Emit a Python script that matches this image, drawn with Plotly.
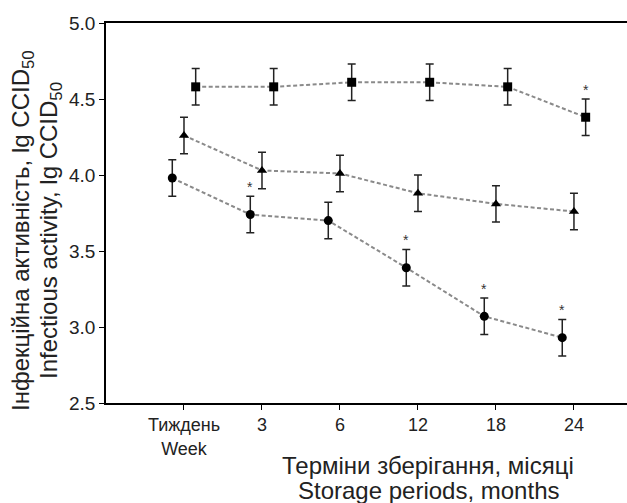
import plotly.graph_objects as go

# ---- data ----
categories = ["Тиждень<br>Week", "3", "6", "12", "18", "24"]
cat_pos = [1, 2, 3, 4, 5, 6]

circle_vals = [3.98, 3.74, 3.70, 3.39, 3.07, 2.93]
circle_err = [0.12, 0.12, 0.12, 0.12, 0.12, 0.12]
circle_sig = [False, True, False, True, True, True]

triangle_vals = [4.26, 4.03, 4.01, 3.88, 3.81, 3.76]
triangle_err = [0.12, 0.12, 0.12, 0.12, 0.12, 0.12]
triangle_sig = [False, False, False, False, False, False]

square_vals = [4.58, 4.58, 4.61, 4.61, 4.58, 4.38]
square_err = [0.12, 0.12, 0.12, 0.12, 0.12, 0.12]
square_sig = [False, False, False, False, False, True]

y_ticks = [2.5, 3.0, 3.5, 4.0, 4.5, 5.0]

# ---- styling ----
FONT = "Liberation Sans, Arial, sans-serif"
series = [
    (circle_vals, circle_err, circle_sig, "circle", 9, -0.15),
    (triangle_vals, triangle_err, triangle_sig, "triangle-up", 9, 0.0),
    (square_vals, square_err, square_sig, "square", 9, 0.15),
]

fig = go.Figure()
annotations = []
for vals, errs, sig, sym, size, off in series:
    xs = [p + off for p in cat_pos]
    fig.add_trace(go.Scatter(
        x=xs, y=vals, mode="lines+markers",
        line=dict(color="#8a8a8a", width=2, dash="4px,2.5px"),
        marker=dict(symbol=sym, size=size, color="black"),
        error_y=dict(type="data", array=errs, visible=True,
                     color="#222222", thickness=1.5, width=4),
        showlegend=False,
    ))
    for x, v, e, s in zip(xs, vals, errs, sig):
        if s:
            annotations.append(dict(
                x=x, y=v + e, xref="x", yref="y", text="*",
                showarrow=False, yanchor="middle", yshift=9,
                font=dict(family=FONT, size=14, color="#333333"),
            ))

# axis titles as annotations (pixel positions, converted below)
annotations += [
    dict(x=22, y=231, xref="paper", yref="paper", text="Інфекційна активність, lg CCID<sub>50</sub>",
         showarrow=False, textangle=-90, xanchor="center", yanchor="middle",
         font=dict(family=FONT, size=24, color="#222222")),
    dict(x=50, y=231, xref="paper", yref="paper", text="Infectious activity, lg CCID<sub>50</sub>",
         showarrow=False, textangle=-90, xanchor="center", yanchor="middle",
         font=dict(family=FONT, size=24, color="#222222")),
    dict(x=428, y=465, xref="paper", yref="paper", text="Терміни зберігання, місяці",
         showarrow=False, xanchor="center", yanchor="middle",
         font=dict(family=FONT, size=24, color="#222222")),
    dict(x=428, y=490, xref="paper", yref="paper", text="Storage periods, months",
         showarrow=False, xanchor="center", yanchor="middle",
         font=dict(family=FONT, size=24, color="#222222")),
]

W, H = 627, 503
ML, MR, MT, MB = 106, 0, 23, 100
pw, ph = W - ML - MR, H - MT - MB
for a in annotations:
    if a["xref"] == "paper":
        a["x"] = (a["x"] - ML) / pw
        a["y"] = 1 - (a["y"] - MT) / ph

fig.update_layout(
    width=W, height=H, autosize=False,
    margin=dict(l=ML, r=MR, t=MT, b=MB, pad=0, autoexpand=False),
    paper_bgcolor="white", plot_bgcolor="white",
    font=dict(family=FONT, size=18, color="#222222"),
    annotations=annotations,
    xaxis=dict(
        range=[0, 6.68], tickvals=cat_pos, ticktext=categories, automargin=False,
        showgrid=False, zeroline=False, showline=True, mirror=True,
        linecolor="black", linewidth=1.5, ticks="outside", ticklen=5,
        tickcolor="black", tickwidth=1.2, tickfont=dict(size=18),
    ),
    yaxis=dict(
        range=[2.5, 5.0], tickvals=y_ticks, ticktext=[f"{v:.1f}" for v in y_ticks],
        automargin=False,
        showgrid=False, zeroline=False, showline=True,
        linecolor="black", linewidth=1.5, ticks="outside", ticklen=5,
        tickcolor="black", tickwidth=1.2, tickfont=dict(size=19),
    ),
)

fig.write_html(
    "out.html",
    config={"displayModeBar": False},
    post_script="document.body.style.margin='0';document.body.style.overflow='hidden';",
)
